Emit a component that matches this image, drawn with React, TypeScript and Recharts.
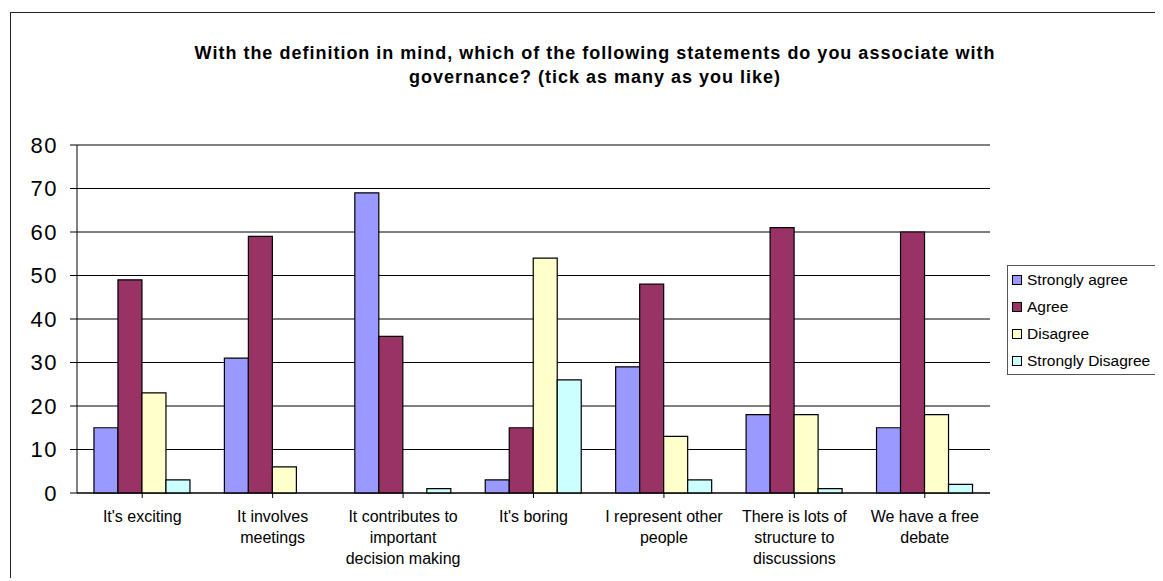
import React from 'react';
import { BarChart, Bar, XAxis, YAxis, CartesianGrid } from 'recharts';

const categories = [
  "It's exciting",
  'It involves meetings',
  'It contributes to important decision making',
  "It's boring",
  'I represent other people',
  'There is lots of structure to discussions',
  'We have a free debate',
];
// how each category label wraps under the axis
const categoryLines = [
  ["It's exciting"],
  ['It involves', 'meetings'],
  ['It contributes to', 'important', 'decision making'],
  ["It's boring"],
  ['I represent other', 'people'],
  ['There is lots of', 'structure to', 'discussions'],
  ['We have a free', 'debate'],
];
const stronglyAgree = [15, 31, 69, 3, 29, 18, 15];
const agree = [49, 59, 36, 15, 48, 61, 60];
const disagree = [23, 6, 0, 54, 13, 18, 18];
const stronglyDisagree = [3, 0, 1, 26, 3, 1, 2];
const yTicks = [0, 10, 20, 30, 40, 50, 60, 70, 80];

const SERIES = [
  { key: 'sa', name: 'Strongly agree', color: '#9999FF' },
  { key: 'a', name: 'Agree', color: '#993366' },
  { key: 'd', name: 'Disagree', color: '#FFFFCC' },
  { key: 'sd', name: 'Strongly Disagree', color: '#CCFFFF' },
];

const FONT = '"Liberation Sans", Arial, sans-serif';

const data = categories.map((name, i) => ({
  name,
  sa: stronglyAgree[i],
  a: agree[i],
  d: disagree[i],
  sd: stronglyDisagree[i],
}));

const CategoryTick = (props: any) => {
  const { x, y, payload } = props;
  const idx = categories.indexOf(payload.value);
  const lines = idx >= 0 ? categoryLines[idx] : [payload.value];
  return (
    <text x={x} y={y} textAnchor="middle" fontSize={16} fill="#000" fontFamily={FONT}>
      {lines.map((l, i) => (
        <tspan key={i} x={x} dy={i === 0 ? 21.5 : 21}>{l}</tspan>
      ))}
    </text>
  );
};

const LegendBox = () => (
  <div
    style={{
      position: 'absolute',
      left: 999,
      top: 257,
      width: 180,
      border: '1.5px solid #555',
      background: '#fff',
      padding: '0 0 0 4px',
      fontFamily: FONT,
      fontSize: 15.5,
      color: '#000',
    }}
  >
    {SERIES.map(s => (
      <div key={s.key} style={{ display: 'flex', alignItems: 'center', height: 27 }}>
        <span
          style={{
            width: 8,
            height: 8,
            background: s.color,
            border: '1px solid #000',
            marginRight: 5,
            display: 'inline-block',
          }}
        />
        <span>{s.name}</span>
      </div>
    ))}
  </div>
);

export default function App() {
  return (
    <div style={{ position: 'relative', width: 1155, height: 570, overflow: 'hidden', background: '#fff' }}>
      <div
        style={{
          position: 'absolute',
          left: 2,
          top: 4,
          width: 2000,
          height: 2000,
          border: '1.5px solid #222',
        }}
      />
      <div
        style={{
          position: 'absolute',
          left: 87,
          width: 1000,
          top: 33,
          textAlign: 'center',
          fontFamily: FONT,
          fontWeight: 'bold',
          fontSize: 18,
          letterSpacing: 1,
          lineHeight: '24px',
          color: '#000',
          whiteSpace: 'nowrap',
        }}
      >
        <div>With the definition in mind, which of the following statements do you associate with</div>
        <div>governance? (tick as many as you like)</div>
      </div>
      <div style={{ position: 'absolute', left: 0, top: 0 }}>
        <BarChart
          width={1155}
          height={570}
          data={data}
          margin={{ top: 137, right: 173, bottom: 5, left: 0 }}
          barCategoryGap="13%"
          barGap={0}
        >
          <CartesianGrid vertical={false} stroke="#000" strokeWidth={1} />
          <XAxis
            dataKey="name"
            height={80}
            interval={0}
            tick={<CategoryTick />}
            tickSize={5}
            tickMargin={2}
            axisLine={{ stroke: '#000' }}
            tickLine={{ stroke: '#000' }}
          />
          <YAxis
            width={69}
            domain={[0, 80]}
            ticks={yTicks}
            interval={0}
            tickSize={7}
            tickMargin={12}
            axisLine={{ stroke: '#000' }}
            tickLine={{ stroke: '#000' }}
            tick={{ fill: '#000', fontSize: 22, letterSpacing: 1.5, fontFamily: FONT }}
          />
          <YAxis
            yAxisId="frame"
            orientation="right"
            width={0}
            domain={[0, 80]}
            tick={false}
            tickLine={false}
            axisLine={{ stroke: '#888', strokeWidth: 1.5 }}
          />
          {SERIES.map(s => (
            <Bar
              key={s.key}
              dataKey={s.key}
              name={s.name}
              fill={s.color}
              stroke="#000"
              strokeWidth={1.2}
              isAnimationActive={false}
            />
          ))}
        </BarChart>
      </div>
      <LegendBox />
    </div>
  );
}
